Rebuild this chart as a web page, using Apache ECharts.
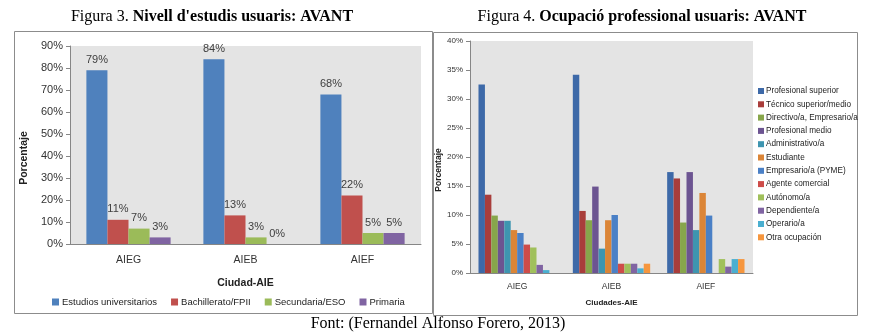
<!DOCTYPE html>
<html><head><meta charset="utf-8">
<script src="https://cdn.jsdelivr.net/npm/echarts@6/dist/echarts.min.js"></script>
<style>html,body{margin:0;padding:0;background:#fff}#c{width:877px;height:336px}</style>
</head><body><div id="c"></div>
<script>
// ---- Figure 3 data ----
const catsLeft = ['AIEG', 'AIEB', 'AIEF'];
const leftNames = ['Estudios universitarios', 'Bachillerato/FPII', 'Secundaria/ESO', 'Primaria'];
const estudios = [79, 84, 68];
const bachillerato = [11, 13, 22];
const secundaria = [7, 3, 5];
const primaria = [3, 0, 5];
const leftValues = [estudios, bachillerato, secundaria, primaria];
const leftColors = ['#4F81BD', '#C0504D', '#9BBB59', '#8064A2'];

// ---- Figure 4 data ----
const catsRight = ['AIEG', 'AIEB', 'AIEF'];
const rightNames = ['Profesional superior', 'Técnico superior/medio', 'Directivo/a, Empresario/a', 'Profesional medio',
  'Administrativo/a', 'Estudiante', 'Empresario/a (PYME)', 'Agente comercial', 'Autónomo/a', 'Dependiente/a',
  'Operario/a', 'Otra ocupación'];
const profSuperior = [32.5, 34.2, 17.4];
const tecnico = [13.5, 10.7, 16.3];
const directivo = [9.9, 9.1, 8.7];
const profMedio = [9.0, 14.9, 17.4];
const administrativo = [9.0, 4.2, 7.4];
const estudiante = [7.4, 9.1, 13.8];
const empresario = [6.9, 10.0, 9.9];
const agente = [4.9, 1.6, 0];
const autonomo = [4.4, 1.6, 2.4];
const dependiente = [1.4, 1.6, 1.1];
const operario = [0.5, 0.8, 2.4];
const otra = [0, 1.6, 2.4];
const rightValues = [profSuperior, tecnico, directivo, profMedio, administrativo, estudiante, empresario,
  agente, autonomo, dependiente, operario, otra];
const rightColors = ['#3D69A8', '#A93D3B', '#87A64B', '#6C5491', '#3E95B0', '#DB8537', '#4A80C6', '#CE4C49',
  '#A0C05B', '#8064A2', '#4AAFD0', '#F6963E'];

const sans = "'Liberation Sans Narrow','Arial Narrow','Liberation Sans',Arial,sans-serif";
const serif = "'Liberation Serif','Times New Roman',serif";

const chart = echarts.init(document.getElementById('c'), null, {renderer: 'canvas'});

const series = [];
leftNames.forEach((n, i) => {
  series.push({
    name: n, type: 'bar', xAxisIndex: 0, yAxisIndex: 0, data: leftValues[i],
    barGap: '0%', barCategoryGap: '28%',
    itemStyle: {color: leftColors[i]},
    label: {show: true, position: 'top', formatter: p => p.value + '%', fontFamily: sans, fontSize: 11, color: '#404040', distance: 5}
  });
});
rightNames.forEach((n, i) => {
  series.push({
    name: n, type: 'bar', xAxisIndex: 1, yAxisIndex: 1, data: rightValues[i],
    barGap: '0%', barCategoryGap: '18%',
    itemStyle: {color: rightColors[i]}
  });
});

const option = {
  animation: false,
  backgroundColor: '#fff',
  textStyle: {fontFamily: sans},
  graphic: [
    {type: 'rect', shape: {x: 14.5, y: 31.5, width: 418, height: 282}, style: {fill: 'none', stroke: '#8c8c8c', lineWidth: 1}, z: -1},
    {type: 'rect', shape: {x: 433.5, y: 32.5, width: 424, height: 283}, style: {fill: 'none', stroke: '#8c8c8c', lineWidth: 1}, z: -1},
    {type: 'text', style: {
      x: 212, y: 17, align: 'center', verticalAlign: 'middle',
      text: '{r|Figura 3. }{b|Nivell d\'estudis usuaris: AVANT}',
      rich: {r: {fontFamily: serif, fontSize: 16, fill: '#000'}, b: {fontFamily: serif, fontSize: 16, fontWeight: 'bold', fill: '#000'}}
    }},
    {type: 'text', style: {
      x: 642, y: 17, align: 'center', verticalAlign: 'middle',
      text: '{r|Figura 4. }{b|Ocupació professional usuaris: AVANT}',
      rich: {r: {fontFamily: serif, fontSize: 16, fill: '#000'}, b: {fontFamily: serif, fontSize: 16, fontWeight: 'bold', fill: '#000'}}
    }},
    {type: 'text', style: {
      x: 438, y: 324, align: 'center', verticalAlign: 'middle',
      text: 'Font: (Fernandel Alfonso Forero, 2013)', fontFamily: serif, fontSize: 16, fill: '#000'
    }}
  ],
  grid: [
    {left: 70, top: 46, width: 351, height: 198, show: true, backgroundColor: '#E4E4E4', borderWidth: 0},
    {left: 470, top: 41, width: 283, height: 232, show: true, backgroundColor: '#E4E4E4', borderWidth: 0}
  ],
  legend: [
    {data: leftNames, left: 47, top: 292, itemWidth: 7, itemHeight: 7, itemGap: 14, icon: 'rect',
      textStyle: {fontFamily: sans, fontSize: 9.5, color: '#222', padding: [0, 0, 0, -2]}},
    {data: rightNames, orient: 'vertical', left: 753, top: 81, itemWidth: 6, itemHeight: 6, itemGap: 3.3, icon: 'rect',
      textStyle: {fontFamily: sans, fontSize: 8.2, lineHeight: 10, color: '#222', padding: [0, 0, 0, -3]}}
  ],
  xAxis: [
    {type: 'category', gridIndex: 0, data: catsLeft,
      axisLine: {lineStyle: {color: '#868686'}}, axisTick: {show: false},
      axisLabel: {fontFamily: sans, fontSize: 10.5, color: '#333', margin: 11},
      name: 'Ciudad-AIE', nameLocation: 'middle', nameGap: 34,
      nameTextStyle: {fontFamily: sans, fontSize: 10.5, fontWeight: 'bold', color: '#222'}},
    {type: 'category', gridIndex: 1, data: catsRight,
      axisLine: {lineStyle: {color: '#868686'}}, axisTick: {show: false},
      axisLabel: {fontFamily: sans, fontSize: 8.5, color: '#333', margin: 9},
      name: 'Ciudades-AIE', nameLocation: 'middle', nameGap: 26,
      nameTextStyle: {fontFamily: sans, fontSize: 8, fontWeight: 'bold', color: '#222'}}
  ],
  yAxis: [
    {type: 'value', gridIndex: 0, min: 0, max: 90, interval: 10,
      axisLine: {show: true, lineStyle: {color: '#868686'}}, axisTick: {show: true, length: 4, lineStyle: {color: '#868686'}},
      splitLine: {show: false},
      axisLabel: {formatter: '{value}%', fontFamily: sans, fontSize: 11, color: '#333', margin: 7},
      name: 'Porcentaje', nameLocation: 'middle', nameGap: 40, nameRotate: 90,
      nameTextStyle: {fontFamily: sans, fontSize: 10.5, fontWeight: 'bold', color: '#222', padding: [0, 0, 0, -26]}},
    {type: 'value', gridIndex: 1, min: 0, max: 40, interval: 5,
      axisLine: {show: true, lineStyle: {color: '#868686'}}, axisTick: {show: true, length: 4, lineStyle: {color: '#868686'}},
      splitLine: {show: false},
      axisLabel: {formatter: '{value}%', fontFamily: sans, fontSize: 8, color: '#333', margin: 7},
      name: 'Porcentaje', nameLocation: 'middle', nameGap: 22, nameRotate: 90,
      nameTextStyle: {fontFamily: sans, fontSize: 8.5, fontWeight: 'bold', color: '#222', padding: [0, 0, 0, -26]}}
  ],
  series: series
};
chart.setOption(option);
</script></body></html>
